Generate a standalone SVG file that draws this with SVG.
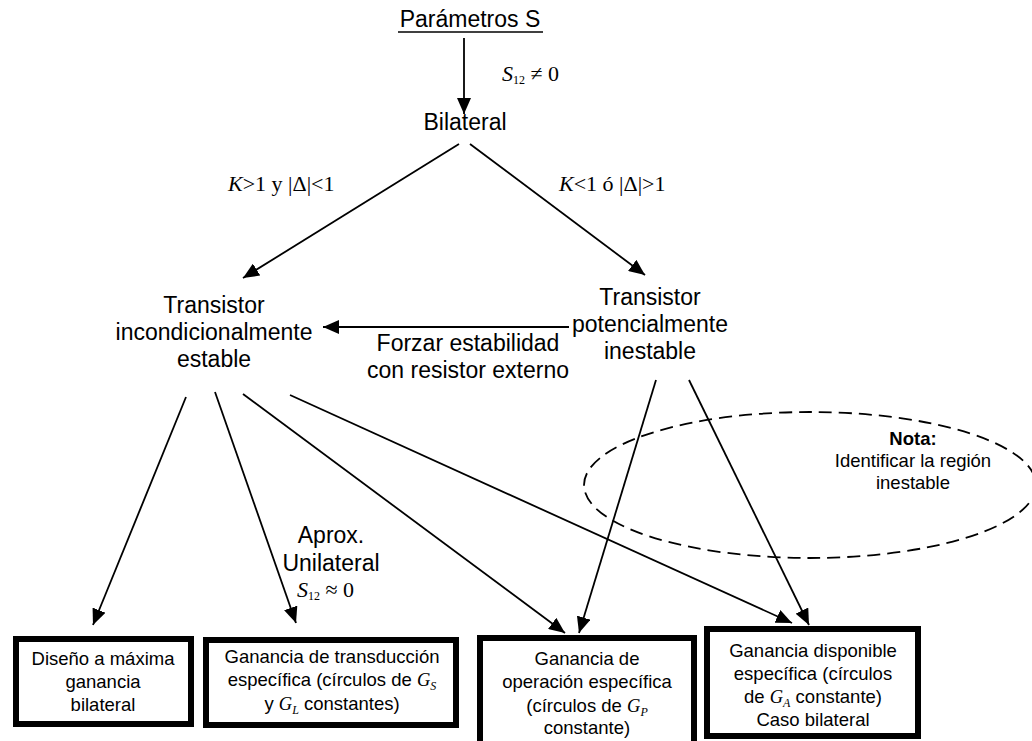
<svg xmlns="http://www.w3.org/2000/svg" width="1032" height="741" viewBox="0 0 1032 741">
<style>
.t{font-family:"Liberation Sans",Arial,sans-serif;font-size:23px;fill:#000;text-anchor:middle}
.b{font-family:"Liberation Sans",Arial,sans-serif;font-size:18.5px;fill:#000;text-anchor:middle}
.n{font-family:"Liberation Sans",Arial,sans-serif;font-size:18.5px;fill:#000;text-anchor:middle}
.m{font-family:"Liberation Serif","Times New Roman",serif;font-size:22px;fill:#000}
.i{font-style:italic;font-family:"Liberation Serif","Times New Roman",serif}
.box{fill:#fff;stroke:#000;stroke-width:6}
.ln{stroke:#000;stroke-width:1.8;fill:none}
</style>
<defs>
<marker id="ah" markerUnits="userSpaceOnUse" markerWidth="16" markerHeight="14" refX="16" refY="7" orient="auto">
<path d="M0,0 L16,7 L0,14 z" fill="#000"/>
</marker>
</defs>
<g id="connectors">
<line class="ln" x1="464" y1="38" x2="464" y2="114" marker-end="url(#ah)"/>
<line class="ln" x1="459" y1="144" x2="243" y2="278" marker-end="url(#ah)"/>
<line class="ln" x1="470" y1="144" x2="645" y2="275" marker-end="url(#ah)"/>
<line class="ln" x1="569" y1="327" x2="323" y2="327" marker-end="url(#ah)"/>
<line class="ln" x1="186" y1="397" x2="93" y2="625" marker-end="url(#ah)"/>
<line class="ln" x1="215" y1="392" x2="296" y2="623" marker-end="url(#ah)"/>
<line class="ln" x1="243" y1="394" x2="565" y2="633" marker-end="url(#ah)"/>
<line class="ln" x1="290" y1="395" x2="792" y2="623" marker-end="url(#ah)"/>
<line class="ln" x1="656" y1="380" x2="579" y2="633" marker-end="url(#ah)"/>
<line class="ln" x1="689" y1="380" x2="809" y2="625" marker-end="url(#ah)"/>
</g>
<g id="labels">
<text class="m" x="502" y="81" font-size="19"><tspan class="i">S</tspan><tspan font-size="12" dy="3">12</tspan><tspan dy="-3"> ≠ 0</tspan></text>
<text class="m" x="228" y="191"><tspan class="i">K</tspan>&gt;1 y |Δ|&lt;1</text>
<text class="m" x="559" y="191" font-size="23"><tspan class="i">K</tspan>&lt;1 ó |Δ|&gt;1</text>
<text class="t" x="468" y="351" font-size="24">Forzar estabilidad</text>
<text class="t" x="468" y="378" font-size="24">con resistor externo</text>
<text class="t" x="331" y="543">Aprox.</text>
<text class="t" x="331" y="571">Unilateral</text>
<text class="m" x="297" y="597" font-size="19"><tspan class="i">S</tspan><tspan font-size="12" dy="3">12</tspan><tspan dy="-3"> ≈ 0</tspan></text>
</g>
<g id="node-params">
<text class="t" x="470" y="27">Parámetros S</text>
<line x1="398" y1="32" x2="543" y2="32" stroke="#000" stroke-width="1.5"/>
</g>
<g id="node-bilateral">
<text class="t" x="465" y="130">Bilateral</text>
</g>
<g id="node-incond">
<text class="t" x="214" y="313">Transistor</text>
<text class="t" x="214" y="340">incondicionalmente</text>
<text class="t" x="214" y="367">estable</text>
</g>
<g id="node-potenc">
<text class="t" x="650" y="305">Transistor</text>
<text class="t" x="650" y="332">potencialmente</text>
<text class="t" x="650" y="359">inestable</text>
</g>
<g id="note">
<ellipse cx="810" cy="485" rx="226" ry="73" fill="none" stroke="#000" stroke-width="1.8" stroke-dasharray="13,7"/>
<text class="n" x="913" y="445" font-weight="bold">Nota:</text>
<text class="n" x="913" y="467">Identificar la región</text>
<text class="n" x="913" y="489">inestable</text>
</g>
<g id="box1">
<rect class="box" x="16" y="639" width="175" height="85"/>
<text class="b" x="103" y="665">Diseño a máxima</text>
<text class="b" x="103" y="688">ganancia</text>
<text class="b" x="103" y="711">bilateral</text>
</g>
<g id="box2">
<rect class="box" x="206" y="640" width="250" height="85"/>
<text class="b" x="332" y="663">Ganancia de transducción</text>
<text class="b" x="332" y="686">específica (círculos de <tspan class="i">G</tspan><tspan class="i" font-size="12" dy="4">S</tspan></text>
<text class="b" x="332" y="710">y <tspan class="i">G</tspan><tspan class="i" font-size="12" dy="4">L</tspan><tspan dy="-4"> constantes)</tspan></text>
</g>
<g id="box3">
<rect class="box" x="480" y="638" width="214" height="120"/>
<text class="b" x="587" y="665">Ganancia de</text>
<text class="b" x="587" y="688">operación específica</text>
<text class="b" x="587" y="712">(círculos de <tspan class="i">G</tspan><tspan class="i" font-size="12" dy="4">P</tspan></text>
<text class="b" x="587" y="734">constante)</text>
</g>
<g id="box4">
<rect class="box" x="707" y="629" width="211" height="107"/>
<text class="b" x="813" y="657">Ganancia disponible</text>
<text class="b" x="813" y="680">específica (círculos</text>
<text class="b" x="813" y="703">de <tspan class="i">G</tspan><tspan class="i" font-size="12" dy="4">A</tspan><tspan dy="-4"> constante)</tspan></text>
<text class="b" x="813" y="726">Caso bilateral</text>
</g>
</svg>
